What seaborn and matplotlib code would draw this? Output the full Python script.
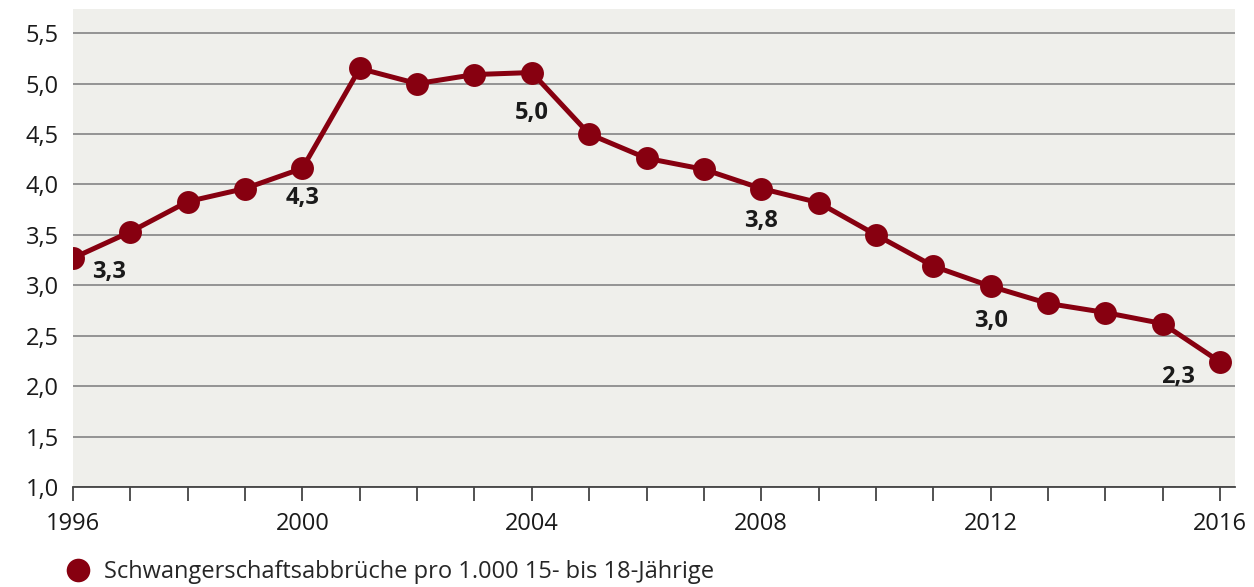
import matplotlib
matplotlib.use("Agg")
import matplotlib.pyplot as plt
import seaborn as sns
import pandas as pd
from matplotlib.lines import Line2D

years = list(range(1996, 2017))
values = [3.27, 3.53, 3.83, 3.96, 4.16, 5.15, 5.00, 5.09, 5.11, 4.50, 4.26,
          4.15, 3.96, 3.82, 3.50, 3.19, 2.99, 2.82, 2.73, 2.62, 2.24]
label_years = [1996, 2000, 2004, 2008, 2012, 2016]
label_texts = ["3,3", "4,3", "5,0", "3,8", "3,0", "2,3"]
ytick_values = [1.0, 1.5, 2.0, 2.5, 3.0, 3.5, 4.0, 4.5, 5.0, 5.5]
ytick_labels = ["1,0", "1,5", "2,0", "2,5", "3,0", "3,5", "4,0", "4,5", "5,0", "5,5"]
xtick_labels = [str(y) if (y - 1996) % 4 == 0 else "" for y in years]
legend_label = "Schwangerschaftsabbrüche pro 1.000 15- bis 18-Jährige"

RED = "#870010"
BG = "#efefeb"
FS = 17

sns.set_theme(style="white")
plt.rcParams["font.family"] = ["Open Sans", "DejaVu Sans"]

df = pd.DataFrame({"Jahr": years, "Wert": values})

fig = plt.figure(figsize=(12.54, 5.87), dpi=100)
ax = fig.add_axes([73 / 1254, 1 - 487 / 587, (1235 - 73) / 1254, (487 - 9) / 587])
ax.set_facecolor(BG)

sns.lineplot(data=df, x="Jahr", y="Wert", ax=ax, color=RED, linewidth=3.6,
             marker="o", markersize=16.5, markeredgewidth=0, zorder=5)

ax.set_xlim(1996, 2016.26)
ax.set_ylim(1.0, 5.74)
ax.set_yticks(ytick_values)
ax.set_yticklabels(ytick_labels, fontsize=FS, color="#1a1a1a")
ax.set_xticks(years)
ax.set_xticklabels(xtick_labels, fontsize=FS, color="#1a1a1a")
ax.tick_params(axis="y", left=False, length=0, pad=10)
ax.tick_params(axis="x", bottom=True, length=10, width=1.3, color="#444444", pad=8,
               direction="out")
ax.grid(axis="y", color="#8c8c8c", linewidth=1.3)
ax.set_axisbelow(True)
ax.set_xlabel("")
ax.set_ylabel("")
for s in ["top", "right", "left"]:
    ax.spines[s].set_visible(False)
ax.spines["bottom"].set_color("#444444")
ax.spines["bottom"].set_linewidth(1.3)

offsets = {1996: (36, -14), 2000: (0, -30), 2004: (0, -40), 2008: (0, -32),
           2012: (0, -35), 2016: (-42, -15)}
for yr, txt in zip(label_years, label_texts):
    v = values[years.index(yr)]
    dx, dy = offsets[yr]
    ax.annotate(txt, xy=(yr, v), xytext=(dx * 0.72, dy * 0.72), textcoords="offset points",
                ha="center", va="center", fontsize=FS, fontweight="bold",
                color="#1a1a1a", zorder=6)

handle = Line2D([], [], linestyle="none", marker="o", markersize=17,
                markerfacecolor=RED, markeredgewidth=0)
fig.legend([handle], [legend_label], loc="center left",
           bbox_to_anchor=(54 / 1254, 1 - 572 / 587), frameon=False,
           fontsize=FS, handletextpad=0.1, borderaxespad=0, borderpad=0)

fig.savefig("out.png", dpi=100, facecolor="white")
